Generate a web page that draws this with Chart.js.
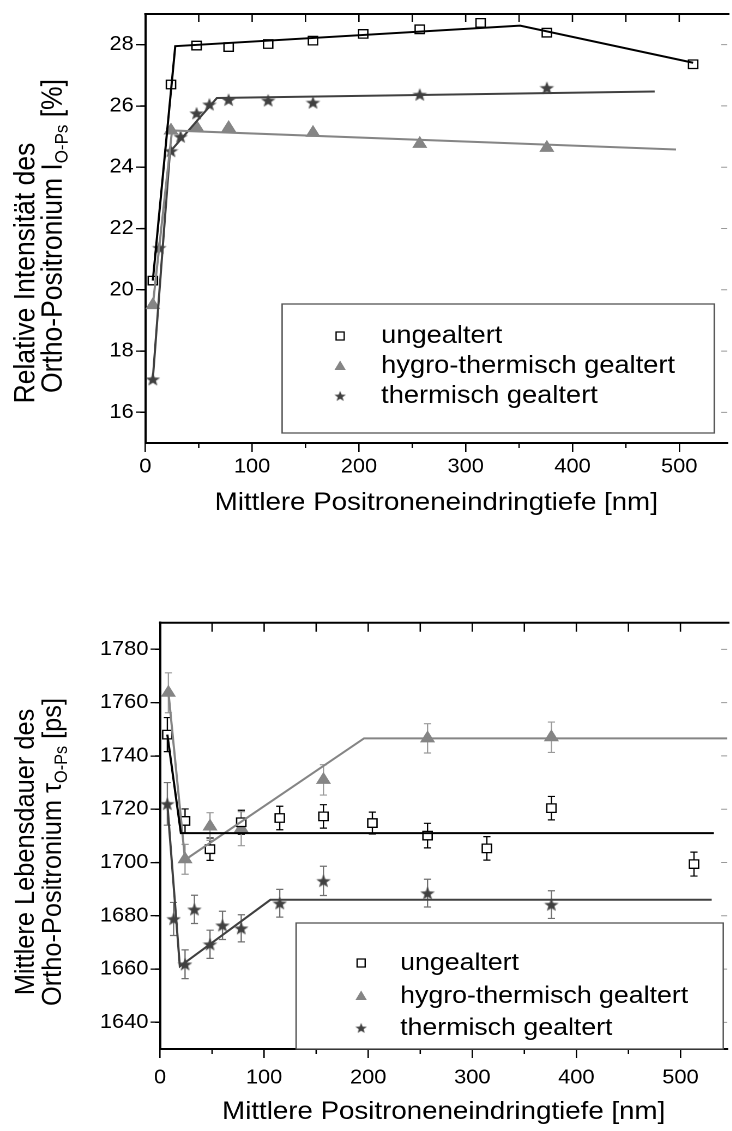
<!DOCTYPE html>
<html>
<head>
<meta charset="utf-8">
<script src="https://cdn.jsdelivr.net/npm/chart.js@4.4.0/dist/chart.umd.min.js"></script>
<style>
html, body { margin:0; padding:0; background:#fff; overflow:hidden; }
#wrap { position:relative; width:732px; height:1131px; overflow:hidden; }
#wrap canvas { position:absolute; left:0; }
#c1 { top:0; }
#c2 { top:565px; }
</style>
</head>
<body>
<div id="wrap">
<canvas id="c1" height="565"></canvas>
<canvas id="c2" height="566"></canvas>
</div>
<script>
// depth of positron penetration [nm]
var depthUng = [7, 24, 48, 78, 115, 157, 204, 257, 314, 376, 513];
var depthHyg = [7, 24, 48, 78, 157, 257, 376];
var depthTh = [7, 13, 24, 33, 48, 60, 78, 115, 157, 257, 376];

// top: relative intensity I_O-Ps [%]
var intUng = [20.3, 26.7, 27.97, 27.92, 28.02, 28.13, 28.35, 28.5, 28.71, 28.39, 27.36];
var intHyg = [19.5, 25.2, 25.3, 25.28, 25.12, 24.76, 24.63];
var intTh = [17.08, 21.37, 24.53, 25.0, 25.76, 26.05, 26.2, 26.18, 26.11, 26.37, 26.59];

var fitUngX = [7, 28, 351, 513], fitUngI = [20.3, 27.95, 28.62, 27.41];
var fitHygX = [7, 25, 497], fitHygI = [19.5, 25.2, 24.58];
var fitThX = [7, 23, 67, 477], fitThI = [17.1, 24.5, 26.26, 26.47];

// bottom: mean lifetime tau_O-Ps [ps]
var depthHyg2 = [8, 24, 48, 78, 157, 257, 376];
var tauUng = [1748, 1715.6, 1705, 1715.1, 1716.7, 1717.3, 1714.8, 1710.1, 1705.3, 1720.4, 1699.4];
var errUng = [6.4, 4.5, 4.2, 4.5, 4.4, 4.4, 4.1, 4.6, 4.4, 4.4, 4.5];
var tauHyg = [1763.7, 1701.2, 1713.5, 1712.7, 1731, 1746.6, 1747];
var errHyg = [7.5, 5.6, 5.2, 6.4, 5.7, 5.5, 5.7];
var tauTh = [1722, 1678.8, 1661.8, 1682.4, 1669.3, 1676.4, 1675.3, 1684.7, 1693.1, 1688.5, 1684.2];
var errTh = [8, 6.2, 5.4, 5.3, 5.3, 5.3, 5.1, 5.2, 5.5, 5.2, 5.2];

var fitUngX2 = [7, 20, 532], fitUngT = [1748, 1711, 1711];
var fitHygX2 = [8, 24, 196, 545], fitHygT = [1764, 1701, 1746.6, 1746.6];
var fitThX2 = [7, 19, 106, 530], fitThT = [1722, 1661, 1686, 1686];

var xTicks = [0, 100, 200, 300, 400, 500];
var yTicksTop = [16, 18, 20, 22, 24, 26, 28];
var yTicksBot = [1640, 1660, 1680, 1700, 1720, 1740, 1760, 1780];

var legendNames = ["ungealtert", "hygro-thermisch gealtert", "thermisch gealtert"];

var FONT = "'Liberation Sans', Arial, sans-serif";
var GREY = "#858585";
var DARK = "#404040";

// the figure is a little wider than tall in its lettering, so the canvas is stretched
var SX = 1.09;
var W = 675;
function D(px) { return px / SX; }

["c1", "c2"].forEach(function(id) {
	var c = document.getElementById(id);
	c.width = W;
	c.style.width = (W * SX) + "px";
	c.style.height = c.height + "px";
});

function makeStar(size, color)
{
	var c = document.createElement("canvas");
	c.width = size; c.height = size;
	var g = c.getContext("2d");
	var r = size / 2, ri = r * 0.42;
	g.beginPath();
	for (var k = 0; k < 10; k++) {
		var rr = (k % 2) ? ri : r;
		var a = -Math.PI / 2 + k * Math.PI / 5;
		var px = r + rr * Math.cos(a), py = r + 0.6 + rr * Math.sin(a);
		if (k == 0) g.moveTo(px, py); else g.lineTo(px, py);
	}
	g.closePath();
	g.fillStyle = color;
	g.fill();
	return c;
}
var starImg = makeStar(14, DARK);

function pts(xs, ys)
{
	var out = [];
	for (var i = 0; i < xs.length; i++) out.push({x: xs[i], y: ys[i]});
	return out;
}

function fitSet(xs, ys, color)
{
	return {data: pts(xs, ys), showLine: true, borderColor: color, borderWidth: 2, pointRadius: 0, order: 0};
}

function drawMarker(ctx, style, x, y)
{
	ctx.save();
	if (style == "rect") {
		ctx.fillStyle = "#fff"; ctx.strokeStyle = "#000"; ctx.lineWidth = 1.2;
		ctx.beginPath(); ctx.rect(x - 3.7, y - 4, 7.4, 8); ctx.fill(); ctx.stroke();
	} else if (style == "triangle") {
		ctx.fillStyle = GREY;
		ctx.beginPath(); ctx.moveTo(x, y - 5.5); ctx.lineTo(x + 5.2, y + 4); ctx.lineTo(x - 5.2, y + 4); ctx.closePath(); ctx.fill();
	} else {
		ctx.drawImage(starImg, x - 5.5, y - 5.5, 11, 11);
	}
	ctx.restore();
}

// ticks that chart.js can not do: minor ticks, inner top/right ticks, top frame
var frameTicks = {
	id: "frameTicks",
	afterDraw: function(chart, args, o) {
		var ctx = chart.ctx, a = chart.chartArea, xs = chart.scales.x, ys = chart.scales.y;
		ctx.save();
		ctx.strokeStyle = "#000";
		ctx.lineWidth = 2;
		ctx.beginPath(); ctx.moveTo(a.left - 1, a.top); ctx.lineTo(a.right + 2, a.top); ctx.stroke();
		ctx.lineWidth = 1.3;
		ctx.beginPath();
		for (var v = 50; v <= xs.max; v += 50) {
			var px = xs.getPixelForValue(v);
			ctx.moveTo(px, a.top); ctx.lineTo(px, a.top + o.topLen);
			if (v % 100 != 0) { ctx.moveTo(px, a.bottom); ctx.lineTo(px, a.bottom + o.minorLen); }
		}
		for (var w = ys.min + o.yMinor; w < ys.max; w += o.yMinor) {
			var py = ys.getPixelForValue(w);
			var major = Math.round((w - ys.min) / o.yMinor) % 2 == 0;
			if (!major) { ctx.moveTo(a.left, py); ctx.lineTo(a.left - D(5), py); }
		}
		ctx.stroke();
		// right axis sits just outside the picture, only the tips of its ticks show
		ctx.strokeStyle = "#999";
		ctx.lineWidth = 1;
		ctx.beginPath();
		for (var m = 0; m < o.yMajor.length; m++) {
			var qy = ys.getPixelForValue(o.yMajor[m]);
			ctx.moveTo(a.right, qy); ctx.lineTo(a.right - D(6), qy);
		}
		ctx.stroke();
		ctx.restore();
	}
};

var errorBars = {
	id: "errorBars",
	beforeDatasetsDraw: function(chart) {
		var ctx = chart.ctx, xs = chart.scales.x, ys = chart.scales.y;
		chart.data.datasets.forEach(function(ds) {
			if (!ds.errors) return;
			ctx.save();
			ctx.strokeStyle = ds.errorColor;
			ctx.lineWidth = 1.2;
			ctx.beginPath();
			ds.data.forEach(function(p, i) {
				var px = xs.getPixelForValue(p.x);
				var t = ys.getPixelForValue(p.y + ds.errors[i]);
				var b = ys.getPixelForValue(p.y - ds.errors[i]);
				ctx.moveTo(px, t); ctx.lineTo(px, b);
				ctx.moveTo(px - 3.3, t); ctx.lineTo(px + 3.3, t);
				ctx.moveTo(px - 3.3, b); ctx.lineTo(px + 3.3, b);
			});
			ctx.stroke();
			ctx.restore();
		});
	}
};

var boxLegend = {
	id: "boxLegend",
	afterDraw: function(chart, args, o) {
		var ctx = chart.ctx;
		var l = D(o.box[0]), r = D(o.box[2]);
		ctx.save();
		ctx.fillStyle = "#fff";
		ctx.fillRect(l, o.box[1], r - l, o.box[3] - o.box[1]);
		ctx.strokeStyle = "#555";
		ctx.lineWidth = 1.3;
		ctx.strokeRect(l, o.box[1], r - l, o.box[3] - o.box[1]);
		var styles = ["rect", "triangle", "star"];
		ctx.font = o.size + "px " + FONT;
		ctx.fillStyle = "#000";
		ctx.textBaseline = "middle";
		for (var i = 0; i < 3; i++) {
			drawMarker(ctx, styles[i], D(o.markX), o.rows[i]);
			ctx.fillText(legendNames[i], D(o.textX), o.rows[i]);
		}
		ctx.restore();
	}
};

// rotated two line y title with subscript
var yTitle = {
	id: "yTitle",
	afterDraw: function(chart, args, o) {
		var ctx = chart.ctx;
		for (var l = 0; l < o.lines.length; l++) {
			var parts = o.lines[l], w = 0, k;
			for (k = 0; k < parts.length; k++) {
				ctx.font = (parts[k].sub ? o.size * 0.64 : o.size) + "px " + FONT;
				parts[k].w = ctx.measureText(parts[k].t).width;
				w += parts[k].w;
			}
			ctx.save();
			ctx.translate(D(o.x[l]), o.y[l]);
			ctx.rotate(-Math.PI / 2);
			ctx.fillStyle = "#000";
			ctx.textBaseline = "alphabetic";
			var cx = -w / 2, base = o.size * 0.36;
			for (k = 0; k < parts.length; k++) {
				ctx.font = (parts[k].sub ? o.size * 0.64 : o.size) + "px " + FONT;
				ctx.fillText(parts[k].t, cx, parts[k].sub ? base + o.size * 0.22 : base);
				cx += parts[k].w;
			}
			ctx.restore();
		}
	}
};

function plain(v) { return String(v); }

function axes(yMin, yMax, yTicks, left, xHeight, titlePad, tickPad)
{
	return {
		x: {
			type: "linear", min: 0, max: 545,
			afterBuildTicks: function(s) { s.ticks = xTicks.map(function(v) { return {value: v}; }); },
			afterFit: function(s) { s.height = xHeight; },
			ticks: {font: {family: FONT, size: 20}, color: "#000", padding: tickPad, maxRotation: 0, autoSkip: false, callback: plain},
			grid: {drawOnChartArea: false, drawTicks: true, tickLength: 9, color: "#000", lineWidth: 1.3},
			border: {display: true, color: "#000", width: 2},
			title: {display: true, text: "Mittlere Positroneneindringtiefe [nm]", color: "#000",
				font: {family: FONT, size: 25.4}, padding: {top: 0, bottom: titlePad}}
		},
		y: {
			type: "linear", min: yMin, max: yMax,
			afterBuildTicks: function(s) { s.ticks = yTicks.map(function(v) { return {value: v}; }); },
			afterFit: function(s) { s.width = D(left); },
			ticks: {font: {family: FONT, size: 20}, color: "#000", padding: 2, callback: plain},
			grid: {drawOnChartArea: false, drawTicks: true, tickLength: D(9.5), color: "#000", lineWidth: 1.3},
			border: {display: true, color: "#000", width: 2}
		}
	};
}

new Chart("c1", {
	type: "scatter",
	data: {
		datasets: [
			fitSet(fitUngX, fitUngI, "#000"),
			fitSet(fitHygX, fitHygI, GREY),
			fitSet(fitThX, fitThI, DARK),
			{data: pts(depthUng, intUng), pointStyle: "rect", pointRadius: 6, pointBackgroundColor: "#fff", pointBorderColor: "#000", pointBorderWidth: 1.3, order: 1},
			{data: pts(depthHyg, intHyg), pointStyle: "triangle", pointRadius: 7, pointBackgroundColor: GREY, pointBorderColor: GREY, pointBorderWidth: 1, order: 1},
			{data: pts(depthTh, intTh), pointStyle: starImg, order: 1}
		]
	},
	options: {
		responsive: false, animation: false, devicePixelRatio: 2, events: [],
		layout: {padding: {top: 6.7, left: 0, right: 0, bottom: 0}},
		scales: axes(15, 29, yTicksTop, 145.3, 122, 47, 3),
		plugins: {
			legend: {display: false}, tooltip: {enabled: false},
			frameTicks: {topLen: 8, minorLen: 5, yMinor: 1, yMajor: yTicksTop},
			boxLegend: {box: [282, 304, 714, 433], markX: 340, textX: 381, rows: [336, 366, 396], size: 25},
			yTitle: {lines: [[{t: "Relative Intensität des"}], [{t: "Ortho-Positronium I"}, {t: "O-Ps", sub: true}, {t: " [%]"}]],
				x: [24, 51], y: [273, 236], size: 26.5}
		}
	},
	plugins: [frameTicks, errorBars, boxLegend, yTitle]
});

new Chart("c2", {
	type: "scatter",
	data: {
		datasets: [
			fitSet(fitUngX2, fitUngT, "#000"),
			fitSet(fitHygX2, fitHygT, GREY),
			fitSet(fitThX2, fitThT, DARK),
			{data: pts(depthUng, tauUng), errors: errUng, errorColor: "#000", pointStyle: "rect", pointRadius: 6, pointBackgroundColor: "#fff", pointBorderColor: "#000", pointBorderWidth: 1.3, order: 1},
			{data: pts(depthHyg2, tauHyg), errors: errHyg, errorColor: "#9a9a9a", pointStyle: "triangle", pointRadius: 7, pointBackgroundColor: GREY, pointBorderColor: GREY, pointBorderWidth: 1, order: 1},
			{data: pts(depthTh, tauTh), errors: errTh, errorColor: "#707070", pointStyle: starImg, order: 1}
		]
	},
	options: {
		responsive: false, animation: false, devicePixelRatio: 2, events: [],
		layout: {padding: {top: 57.7, left: 0, right: 0, bottom: 0}},
		scales: axes(1630, 1790, yTicksBot, 160, 82, 4, 8),
		plugins: {
			legend: {display: false}, tooltip: {enabled: false},
			frameTicks: {topLen: 9, minorLen: 5, yMinor: 10, yMajor: yTicksBot},
			boxLegend: {box: [296, 358, 723, 484], markX: 361, textX: 400, rows: [398, 431, 463], size: 24.5},
			yTitle: {lines: [[{t: "Mittlere Lebensdauer des"}], [{t: "Ortho-Positronium τ"}, {t: "O-Ps", sub: true}, {t: " [ps]"}]],
				x: [24, 51], y: [287, 287], size: 25.4}
		}
	},
	plugins: [frameTicks, errorBars, boxLegend, yTitle]
});
</script>
</body>
</html>
